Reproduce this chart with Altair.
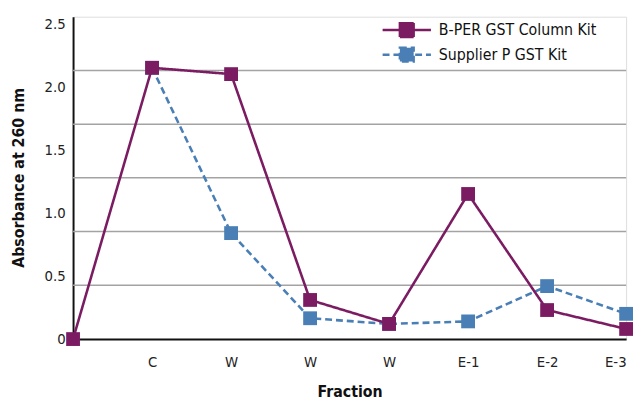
import altair as alt
import pandas as pd

# ---- data ----
positions = [0, 1, 2, 3, 4, 5, 6, 7]
tick_labels = ["", "C", "W", "W", "W", "E-1", "E-2", "E-3"]
series_names = ["B-PER GST Column Kit", "Supplier P GST Kit"]
bper_values = [0.0, 2.15, 2.10, 0.31, 0.12, 1.15, 0.23, 0.08]
supplier_values = [None, 2.15, 0.84, 0.165, 0.12, 0.14, 0.42, 0.20]
y_label_values = [0, 0.5, 1.0, 1.5, 2.0, 2.5]
grid_values = [0.426, 0.852, 1.278, 1.703, 2.129]
y_max = 2.555

colors = ["#7b1c63", "#4a7fb6"]
FONT = "DejaVu Sans Condensed, Liberation Sans Narrow, sans-serif"

rows = []
for p, v in zip(positions, bper_values):
    rows.append({"pos": p, "value": v, "series": series_names[0]})
for p, v in zip(positions, supplier_values):
    if v is not None:
        rows.append({"pos": p, "value": v, "series": series_names[1]})
df = pd.DataFrame(rows)
grid_df = pd.DataFrame({"g": grid_values})

label_expr = "[" + ",".join("'" + t + "'" for t in tick_labels) + "][datum.value]"

x_scale = alt.Scale(domain=[0, 7], nice=False, zero=False)
y_scale = alt.Scale(domain=[0, y_max], nice=False)
color_scale = alt.Scale(domain=series_names, range=colors)
dash_scale = alt.Scale(domain=series_names, range=[[1, 0], [7, 4]])

x_enc = alt.X(
    "pos:Q",
    scale=x_scale,
    axis=alt.Axis(
        values=positions[1:],
        labelExpr=label_expr,
        title="Fraction",
        grid=False,
        ticks=False,
        domainColor="#111",
        domainWidth=2,
        labelFont=FONT,
        labelFontSize=15,
        labelColor="#222",
        labelPadding=16,
        titleFont=FONT,
        titleFontSize=16,
        titleFontWeight="bold",
        titleColor="#111",
        titleY=45,
    ),
)
y_enc = alt.Y(
    "value:Q",
    scale=y_scale,
    axis=alt.Axis(
        values=y_label_values,
        labelExpr="datum.value == 0 ? '0' : format(datum.value, '.1f')",
        title="Absorbance  at 260 nm",
        grid=False,
        ticks=False,
        domainColor="#111",
        domainWidth=2,
        labelFont=FONT,
        labelFontSize=15,
        labelColor="#222",
        labelPadding=8,
        titleFont=FONT,
        titleFontSize=16,
        titleFontWeight="bold",
        titleColor="#111",
        titleX=-47,
        titleY=163,
    ),
)

legend = alt.Legend(
    title=None,
    orient="none",
    legendX=330,
    legendY=5,
    symbolType="M-3.5,0H3.5M-1,-1H1V1H-1Z",
    symbolSize=196,
    symbolStrokeWidth=2.5,
    labelFont=FONT,
    labelFontSize=16,
    labelColor="#111",
    labelOffset=24,
    rowPadding=0,
    padding=0,
)

grid = alt.Chart(grid_df).mark_rule(color="#a3a3a3", strokeWidth=1.6).encode(
    y=alt.Y("g:Q", scale=y_scale)
)

def layers(name):
    sub = alt.Chart(df).transform_filter(alt.datum.series == name)
    line = sub.mark_line(strokeWidth=2.6).encode(
        x=x_enc,
        y=y_enc,
        color=alt.Color("series:N", scale=color_scale, legend=legend),
        strokeDash=alt.StrokeDash("series:N", scale=dash_scale, legend=legend),
    )
    pts = sub.mark_point(shape="square", size=196, filled=True, opacity=1).encode(
        x=x_enc,
        y=y_enc,
        color=alt.Color("series:N", scale=color_scale, legend=legend),
    )
    return [line, pts]

chart = (
    alt.layer(grid, *layers(series_names[1]), *layers(series_names[0]))
    .properties(
        width=561,
        height=327,
        padding={"left": 66, "top": 6, "right": 8, "bottom": 60},
        autosize=alt.AutoSizeParams(type="none"),
    )
    .configure_view(stroke="#444", strokeWidth=1.5)
    .configure(background="white")
)

chart.save("out.html", embed_options={"renderer": "svg", "actions": False})
